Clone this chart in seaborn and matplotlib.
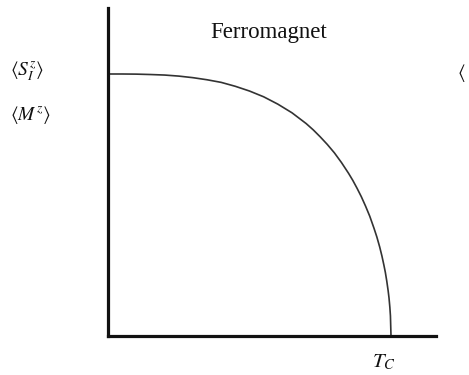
import matplotlib
matplotlib.use("Agg")
import matplotlib.pyplot as plt
import seaborn as sns
import pandas as pd

# Reduced temperature T/Tc and normalised magnetisation
temperature = [0.0, 0.05, 0.10, 0.15, 0.20, 0.25, 0.30, 0.35, 0.40, 0.45,
               0.50, 0.55, 0.60, 0.65, 0.70, 0.725, 0.75, 0.775, 0.80, 0.825,
               0.85, 0.865, 0.88, 0.895, 0.91, 0.925, 0.94, 0.95, 0.96, 0.968,
               0.975, 0.98, 0.985, 0.99, 0.993, 0.996, 0.998, 1.0]
magnetization = [1.0, 1.0, 0.9995, 0.998, 0.996, 0.992, 0.986, 0.978, 0.968, 0.953,
                 0.935, 0.913, 0.885, 0.852, 0.811, 0.787, 0.760, 0.731, 0.699, 0.662,
                 0.621, 0.594, 0.564, 0.532, 0.496, 0.457, 0.411, 0.378, 0.340, 0.305,
                 0.270, 0.243, 0.210, 0.172, 0.145, 0.109, 0.077, 0.0]

title_text = "Ferromagnet"
y_labels = [r"$\langle S^z_I\rangle$", r"$\langle M^z\rangle$"]
x_label = r"$T_C$"

df = pd.DataFrame({"T": temperature, "M": magnetization})

sns.set_style("white")
plt.rcParams["mathtext.fontset"] = "stix"
plt.rcParams["font.family"] = ["Liberation Serif", "DejaVu Serif"]

W, H = 469, 375
fig = plt.figure(figsize=(W / 100, H / 100), dpi=100)
ax = fig.add_axes([108 / W, 1 - 336 / H, (436 - 108) / W, (336 - 8) / H])

sns.lineplot(data=df, x="T", y="M", ax=ax, color="#333333", linewidth=1.2,
             sort=False, estimator=None)

ax.set_xlim(0, (436 - 108) / (391 - 108))
ax.set_ylim(0, (336 - 8) / (336 - 74))
ax.set_xticks([])
ax.set_yticks([])
ax.set_xlabel("")
ax.set_ylabel("")
for side in ("top", "right"):
    ax.spines[side].set_visible(False)
for side in ("left", "bottom"):
    ax.spines[side].set_linewidth(2.3)
    ax.spines[side].set_color("#111111")
    ax.spines[side].set_capstyle("projecting")

def px(x, y):
    return x / W, 1 - y / H

fig.text(*px(269, 38), title_text, ha="center", va="baseline", fontsize=16.5,
         color="#111111")
fig.text(*px(10, 71), y_labels[0], ha="left", va="center", fontsize=14,
         color="#111111")
fig.text(*px(10, 115), y_labels[1], ha="left", va="center", fontsize=14,
         color="#111111")
fig.text(*px(384, 362), x_label, ha="center", va="center", fontsize=15,
         color="#111111")
# opening bracket of the neighbouring panel's label at the right edge
fig.text(*px(457, 73), r"$\langle$", ha="left", va="center", fontsize=14,
         color="#111111")

fig.savefig("out.png", dpi=100)
